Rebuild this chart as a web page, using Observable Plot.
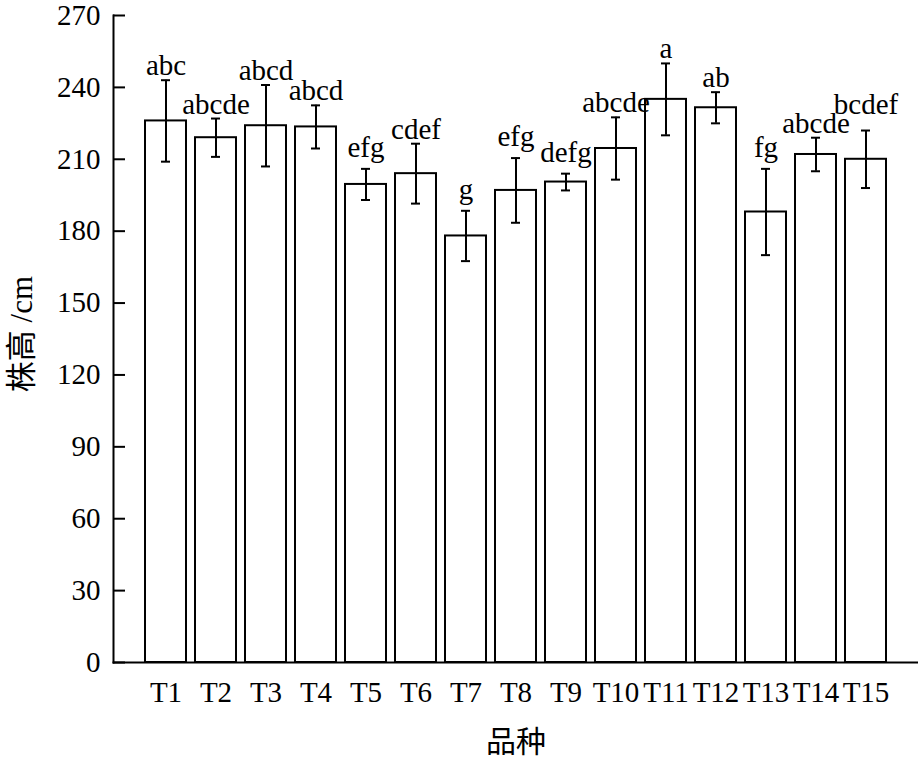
<!DOCTYPE html>
<html>
<head>
<meta charset="utf-8">
<script src="https://cdn.jsdelivr.net/npm/d3@7"></script>
<script src="https://cdn.jsdelivr.net/npm/@observablehq/plot@0.6"></script>
<style>
  html, body { margin: 0; padding: 0; background: #fff; }
  #chart svg { display: block; }
</style>
</head>
<body>
<div id="chart"></div>
<script>
const categories = ["T1","T2","T3","T4","T5","T6","T7","T8","T9","T10","T11","T12","T13","T14","T15"];
const means = [226, 219, 224, 223.5, 199.5, 204, 178, 197, 200.5, 214.5, 235, 231.5, 188, 212, 210];
const errors = [17, 8, 17, 9, 6.5, 12.5, 10.5, 13.5, 3.5, 13, 15, 6.5, 18, 7, 12];
const letters = ["abc","abcde","abcd","abcd","efg","cdef","g","efg","defg","abcde","a","ab","fg","abcde","bcdef"];
const yTicks = [0, 30, 60, 90, 120, 150, 180, 210, 240, 270];
const yTitle = "株高 /cm";
const xTitle = "品种";

const data = categories.map((c, i) => ({cat: c, mean: means[i], err: errors[i], letter: letters[i]}));
// labels with descenders sit a little higher; the last label is lifted to clear its neighbour
const plain = data.filter((d, i) => !/g/.test(d.letter) && i !== data.length - 1);
const desc = data.filter(d => /g/.test(d.letter));
const lifted = data.slice(-1);

const chart = Plot.plot({
  width: 918,
  height: 762,
  marginTop: 15,
  marginBottom: 100,
  marginLeft: 113,
  marginRight: 0,
  style: {fontFamily: "'Liberation Serif', 'Noto Sans CJK SC', serif", fontSize: "29px", color: "#000", background: "#fff"},
  x: {domain: categories, paddingInner: 0.18, paddingOuter: 0.59, label: null},
  y: {domain: [0, 270], label: null},
  marks: [
    Plot.barY(data, {x: "cat", y: "mean", fill: "white", stroke: "black", strokeWidth: 2}),
    Plot.ruleX(data, {x: "cat", y1: d => d.mean - d.err, y2: d => d.mean + d.err, stroke: "black", strokeWidth: 2}),
    Plot.tickY(data, {x: "cat", y: d => d.mean + d.err, stroke: "black", strokeWidth: 2, insetLeft: 16, insetRight: 16}),
    Plot.tickY(data, {x: "cat", y: d => d.mean - d.err, stroke: "black", strokeWidth: 2, insetLeft: 16, insetRight: 16}),
    Plot.text(plain, {x: "cat", y: d => d.mean + d.err, text: "letter", lineAnchor: "bottom", dy: -5, fill: "black"}),
    Plot.text(desc, {x: "cat", y: d => d.mean + d.err, text: "letter", lineAnchor: "bottom", dy: -12, fill: "black"}),
    Plot.text(lifted, {x: "cat", y: d => d.mean + d.err, text: "letter", lineAnchor: "bottom", dy: -17, fill: "black"}),
    Plot.frame({anchor: "left", stroke: "black", strokeWidth: 2}),
    Plot.frame({anchor: "bottom", stroke: "black", strokeWidth: 2}),
    Plot.axisY({ticks: yTicks, tickSize: -12, fill: "none", stroke: "black", strokeWidth: 2, label: null}),
    Plot.axisY({ticks: yTicks, tickSize: 0, tickPadding: 13, label: null, fill: "black"}),
    Plot.axisX({tickSize: 0, tickPadding: 19, label: null, fill: "black"}),
    Plot.text([yTitle], {text: d => d, frameAnchor: "left", textAnchor: "middle", lineAnchor: "middle", dx: -91, dy: -5, rotate: -90, fill: "black", fontSize: 31}),
    Plot.text([xTitle], {text: d => d, frameAnchor: "bottom", lineAnchor: "middle", dy: 80, fill: "black", fontSize: 30})
  ]
});
document.getElementById("chart").appendChild(chart);
</script>
</body>
</html>
